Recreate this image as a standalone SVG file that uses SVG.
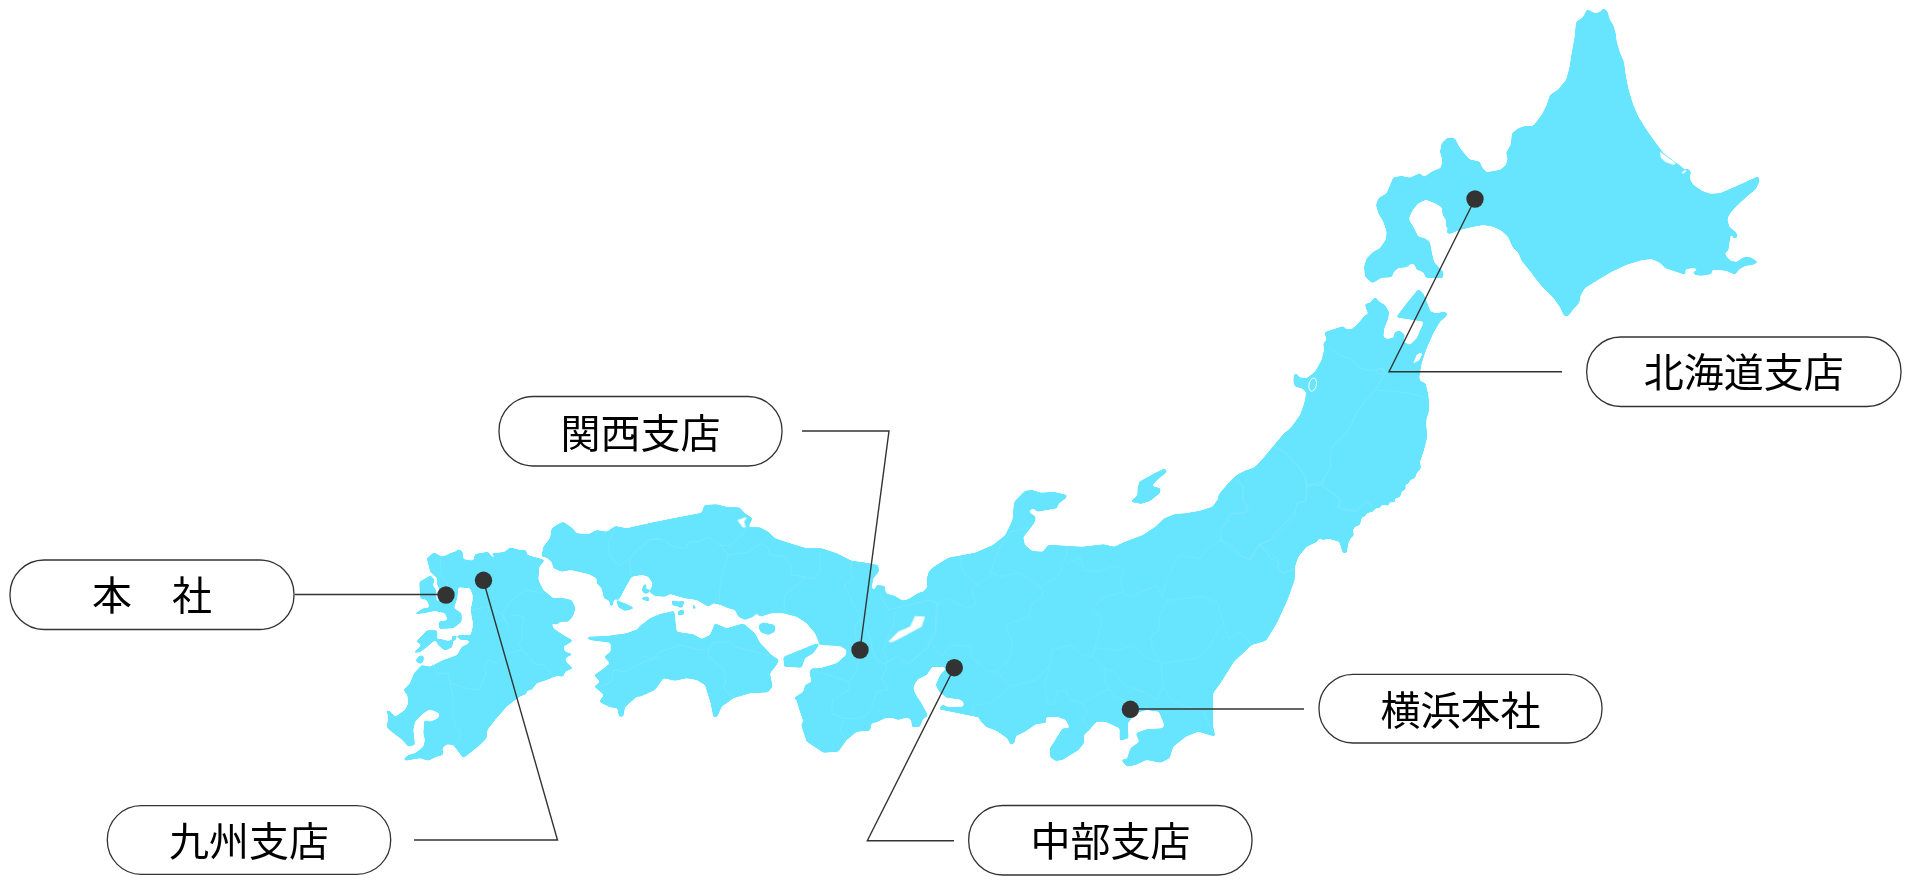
<svg xmlns="http://www.w3.org/2000/svg" width="1913" height="885" viewBox="0 0 1913 885">
<style>
.land{fill:#67e5ff}
.water{fill:#fff}
.pref{fill:none;stroke:#80e9ff;stroke-width:.6;stroke-linejoin:round;vector-effect:non-scaling-stroke}
.lake{fill:none;stroke:#fff;stroke-width:1;vector-effect:non-scaling-stroke}
.box{fill:#fff;stroke:#333;stroke-width:1.3}
.lbl{font-family:"Noto Sans CJK JP","Noto Sans CJK SC",sans-serif;font-size:40px;fill:#000;text-anchor:middle}
.line{fill:none;stroke:#333;stroke-width:1.4;stroke-linejoin:miter}
.dot{fill:#333}
</style>
<defs>
<filter id="round" filterUnits="userSpaceOnUse" x="0" y="0" width="1913" height="885" color-interpolation-filters="sRGB">
<feGaussianBlur stdDeviation="1.1"/>
<feComponentTransfer><feFuncA type="linear" slope="5" intercept="-2"/></feComponentTransfer>
</filter>
</defs>
<rect width="1913" height="885" fill="#fff"/>
<g id="map">
<g filter="url(#round)">
<g transform="translate(1340,0) scale(.33333)">
<polygon class="land" points="742,26 752,34 766,40 780,36 791,24 803,35 809,58 820,76 827,100 830,125 840,158 852,187 857,225 866,270 880,315 895,350 920,390 945,425 970,458 998,480 1010,490 1022,497 1032,508 1045,507 1053,515 1049,535 1058,553 1085,572 1110,581 1140,580 1190,558 1256,528 1257,548 1248,567 1220,590 1190,618 1170,640 1162,658 1168,680 1180,690 1192,702 1192,713 1180,716 1176,703 1172,705 1168,730 1165,753 1155,757 1158,768 1172,782 1190,786 1210,772 1230,771 1255,786 1240,794 1215,798 1198,808 1185,824 1160,813 1140,810 1116,810 1115,822 1085,827 1065,825 1057,815 1070,812 1072,807 1060,804 1036,808 1037,825 976,805 960,788 935,777 905,781 860,794 815,815 770,842 735,864 722,885 718,908 700,928 685,948 672,948 662,925 640,893 610,864 590,840 570,813 545,783 536,760 517,740 505,712 485,692 460,680 430,675 400,680 360,690 327,703 318,695 325,688 318,680 318,660 308,645 305,622 285,610 258,599 235,610 218,630 206,657 220,680 235,710 255,715 270,727 275,755 282,785 295,800 310,815 310,834 258,834 250,817 228,808 225,795 215,790 200,802 175,804 162,815 155,832 125,833 97,850 75,830 72,800 80,775 100,755 120,745 138,718 140,695 130,665 115,640 108,615 115,595 140,580 160,532 185,528 210,533 240,519 252,531 275,515 303,503 307,480 300,455 305,430 322,413 345,415 360,445 388,478 420,485 425,500 440,517 465,512 480,510 498,495 503,475 498,458 512,435 516,400 535,385 555,378 580,377 605,345 620,315 630,285 655,268 678,240 688,205 695,160 704,110 708,67 730,50"/>
</g>
<g transform="translate(1220,260) scale(.33333)">
<polygon class="land" points="-5,965 -5,705 20,675 50,645 75,632 105,622 125,600 150,570 180,535 215,500 240,465 255,425 258,395 245,385 225,380 220,365 222,342 230,340 237,352 260,355 285,335 305,300 312,270 310,250 320,240 313,217 370,198 378,208 395,208 415,190 435,165 445,163 440,150 434,132 450,128 465,110 478,125 495,135 507,155 505,175 493,205 490,230 500,237 520,233 525,215 540,212 555,225 550,245 570,255 590,235 612,185 528,172 560,130 595,87 610,100 632,155 650,160 672,155 682,160 680,168 660,185 640,220 620,265 605,310 598,350 600,362 617,370 625,405 628,450 620,475 618,490 622,530 612,570 600,605 603,625 590,640 585,655 565,660 568,670 552,675 560,685 545,695 540,712 525,715 525,728 510,725 505,738 485,733 480,745 465,742 460,755 440,758 435,770 425,772 420,795 405,800 395,815 403,825 392,835 385,850 380,880 370,880 363,850 360,835 340,835 305,840 296,830 292,845 260,860 235,890 225,920 222,965"/>
</g>
<g transform="translate(900,400) scale(.35714,.33333)">
<polygon class="land" points="1135,-5 1125,40 1100,80 1075,100 1045,140 1015,180 990,205 960,215 935,235 905,275 875,320 840,332 800,340 770,342 740,355 715,380 680,405 630,425 600,440 570,433 510,440 440,436 415,435 400,455 370,453 350,435 345,412 365,385 378,365 380,350 360,335 372,325 385,335 440,325 445,310 465,295 468,285 430,275 395,278 370,270 350,272 320,305 318,320 315,360 295,405 260,435 210,458 135,473 95,500 80,515 75,540 82,570 72,595 60,592 62,575 50,580 22,600 0,603 -10,605 -10,955 30,955 40,975 55,980 60,960 78,945 60,910 45,885 35,865 45,840 75,825 90,800 110,798 130,805 112,825 100,855 110,875 130,893 165,898 178,905 178,920 130,920 120,912 108,928 218,952 235,935 218,935 222,958 240,980 270,992 300,1015 310,1035 320,1030 325,1008 350,995 380,973 410,968 408,952 440,950 465,960 475,985 455,985 420,1045 420,1070 435,1083 455,1080 500,1050 515,1030 515,1005 530,990 550,965 575,965 615,985 615,1023 640,1015 638,970 660,940 690,930 725,935 740,975 735,985 690,988 660,1000 670,1025 645,1045 635,1078 618,1078 635,1100 660,1095 690,1080 730,1088 755,1075 765,1040 800,1010 835,995 883,1010 877,980 877,880 900,845 935,785 985,735 1025,722 1055,670 1085,600 1105,540 1105,500 1115,460 1140,435 1170,420 1180,410 1230,425 1240,460 1250,455 1255,420 1270,400 1265,375 1300,345 1350,315 1380,300 1410,260 1440,230 1455,195 1440,190 1465,140 1475,100 1470,70 1480,30 1480,-5"/>
<polygon class="land" points="645,305 665,285 665,265 670,245 715,218 742,205 748,215 720,240 705,258 730,265 728,280 700,303 675,312"/>
</g>
<g transform="translate(640,490) scale(.33333)">
<polygon class="land" points="-5,112 25,100 100,85 185,68 193,45 230,43 265,52 298,52 315,70 338,85 325,112 360,112 385,125 405,145 450,160 500,175 545,175 590,190 635,212 670,217 715,225 717,245 700,265 695,295 705,300 708,285 735,287 737,310 765,318 790,333 810,325 835,310 850,305 862,290 860,265 875,235 900,225 905,225 905,530 875,530 840,555 820,590 825,620 840,640 863,680 850,685 840,710 815,712 815,697 808,682 790,685 775,690 755,683 735,685 710,697 695,700 690,722 650,725 620,750 595,785 550,788 530,775 500,755 490,725 483,703 490,695 475,650 470,630 460,625 490,605 495,585 515,575 508,545 515,535 540,535 590,520 618,495 620,480 600,468 540,465 525,430 500,400 470,380 430,370 395,370 360,380 350,370 340,380 315,390 295,380 285,360 265,355 242,345 220,340 205,350 170,330 135,325 100,315 90,312 75,320 45,318 30,308 38,280 25,260 0,253 -5,253"/>
<polygon class="land" points="-5,412 30,385 60,372 90,365 103,362 110,425 160,433 185,447 210,435 225,400 260,415 310,400 345,430 360,458 395,495 417,510 410,525 390,550 398,590 385,605 390,607 330,610 280,625 245,650 232,680 220,682 212,640 195,585 170,570 140,565 105,572 70,565 45,600 0,620 -5,622"/>
<polygon class="land" points="430,500 480,480 530,460 537,465 520,490 495,505 485,533 432,530"/>
<polygon class="land" points="355,405 370,397 405,405 405,425 385,435 370,430 360,425"/>
<polygon class="land" points="93,331 112,333 117,347 98,347"/>
<polygon class="land" points="116,333 134,333 127,354 113,352"/>
<polygon class="land" points="158,336 170,357 158,357"/>
<polygon class="land" points="113,363 132,358 132,374 113,377"/>
</g>
<g transform="translate(380,500) scale(.33333)">
<polygon class="land" points="795,72 740,85 706,78 680,95 650,90 625,103 590,100 578,85 550,65 535,72 515,85 510,115 490,140 484,170 498,172 515,185 520,205 545,215 572,210 625,222 650,235 650,250 665,265 672,295 688,302 690,318 698,318 702,298 718,298 735,265 755,230 785,225 795,225"/>
<polygon class="land" points="708,300 740,312 765,325 735,333 715,322"/>
<polygon class="land" points="790,255 800,250 798,270 810,265 805,280 795,282 785,272"/>
<polygon class="land" points="780,295 805,288 810,305 790,300"/>
<polygon class="land" points="620,410 680,408 740,400 780,385 790,375 790,580 770,590 735,622 730,650 717,650 712,625 690,622 657,605 672,585 655,570 642,560 660,545 642,525 665,510 690,490 672,470 692,455 692,428 628,420"/>
<polygon class="land" points="495,180 478,200 475,240 490,270 520,295 545,293 575,300 587,325 578,350 565,365 540,365 530,375 515,368 520,385 550,405 580,422 550,440 555,455 580,462 555,475 562,490 580,505 555,515 550,530 530,528 500,540 470,550 455,570 440,572 440,582 418,590 380,620 345,660 322,690 320,715 300,735 275,755 250,775 235,755 220,735 200,733 187,745 190,765 170,770 145,782 120,775 75,782 70,778 85,765 105,760 130,740 135,720 130,700 133,660 150,665 175,655 178,640 150,628 130,640 105,665 100,690 105,735 85,740 65,718 40,700 20,682 25,650 18,630 30,633 45,650 75,630 85,610 82,585 70,570 90,550 102,520 125,495 150,500 190,480 232,465 245,440 268,430 265,420 240,420 230,406 272,405 280,375 272,330 280,290 270,265 235,262 232,295 222,325 245,340 245,365 220,385 178,387 175,365 203,360 195,340 165,333 130,340 97,345 130,325 150,322 140,300 120,295 118,245 145,230 150,225 165,240 158,255 168,270 170,305 176,305 178,268 170,250 172,235 150,215 148,205 140,175 162,157 185,170 200,165 210,160 225,155 237,147 248,155 250,178 280,182 285,162 325,155 335,170 350,178 332,157 345,160 375,155 390,142 420,150 438,150 442,165"/>
<polygon class="land" points="98,460 125,435 108,425 130,403 140,391 172,391 172,415 140,442 120,457"/>
<polygon class="land" points="166,420 180,416 205,423 220,418 217,442 195,452 176,437"/>
<polygon class="land" points="106,482 118,466 132,468 130,487 118,492"/>
<polygon class="land" points="216,406 230,408 227,422 216,420"/>
</g>
</g>
<g class="water">
<g transform="translate(1340,0) scale(.33333)">
<polygon points="960,455 998,482 1008,490 1000,495 975,485 962,472"/>
<polygon points="1024,518 1035,510 1040,512 1030,521"/>
</g>
<g transform="translate(1220,260) scale(.33333)">
<polygon points="580,308 590,285 600,278 607,282 598,300 585,308"/>
</g>
<g transform="translate(640,490) scale(.33333)">
<polygon points="745,455 775,425 810,410 825,378 855,380 845,410 790,440 755,457"/>
<polygon points="292,90 316,82 320,85 312,95 318,113 308,112"/>
</g>
</g>
<g id="prefectures">
<g transform="translate(1220,260) scale(.33333)">
<ellipse class="lake" cx="278" cy="374" rx="11" ry="20" transform="rotate(12 278 374)"/>
<polyline class="pref" points="335,268 360,287 395,297 415,322 450,332 470,330 490,325 495,338 470,385 440,420 405,465 390,505 345,550 330,580 333,620 305,665 260,677 258,650 230,615 200,585 185,570 160,560"/>
<polyline class="pref" points="465,390 530,395 570,400 620,415"/>
<polyline class="pref" points="305,675 360,715 355,740 375,750 410,755 440,725 465,745"/>
<polyline class="pref" points="260,677 258,725 235,725 225,755 195,790 170,815 150,840 115,855 97,885 95,897 70,895 40,860 0,838"/>
<polyline class="pref" points="45,655 70,680 68,720 85,740 75,760 35,760 20,790 0,810"/>
<polyline class="pref" points="115,855 145,880 150,895 175,905 170,925 190,940 222,925"/>
<circle class="pref" cx="480" cy="335" r="10"/>
</g>
<g transform="translate(900,400) scale(.35714,.33333)">
<polyline class="pref" points="168,470 175,515 215,555 200,570 212,615 190,625 130,595 105,610 88,598"/>
<polyline class="pref" points="105,610 100,690 80,720 80,740 25,790 0,785"/>
<polyline class="pref" points="215,555 250,530 262,490 285,430 310,395 370,380"/>
<polyline class="pref" points="250,515 280,530 335,518 395,560 400,590 370,610 360,650 295,675 315,730 305,780 270,815"/>
<polyline class="pref" points="85,725 115,770 140,735 195,740 200,770 245,815 270,815 310,860 250,910 205,915 207,945"/>
<polyline class="pref" points="395,560 440,530 465,470 470,440"/>
<polyline class="pref" points="465,490 505,472 515,510 555,515 595,498 625,505 618,550 625,580 645,590 720,555 733,590 750,600 725,650 725,690 700,710 710,760 732,790"/>
<polyline class="pref" points="625,575 565,595 540,625 565,660 545,745 615,750 650,735 690,775 732,790 735,860 720,900 690,880 630,855 600,815 572,805 575,850 600,890 640,905"/>
<polyline class="pref" points="545,745 540,770 570,805"/>
<polyline class="pref" points="420,795 380,840 310,860"/>
<polyline class="pref" points="420,795 425,750 480,735 510,765 540,770"/>
<polyline class="pref" points="420,795 405,855 412,910 432,915 440,875 465,870 475,900 510,908 575,870 590,870"/>
<polyline class="pref" points="510,908 525,935 510,960 530,990"/>
<polyline class="pref" points="732,790 830,775 860,750 900,670"/>
<polyline class="pref" points="750,600 850,590 890,610 905,670 920,715 955,695 985,735"/>
<polyline class="pref" points="733,590 750,530 780,465 840,475 860,445 900,420 895,395 925,340 975,335 960,300 960,260 940,235"/>
<polyline class="pref" points="900,420 940,460 980,480 1005,435 1030,450 1060,480 1060,510 1075,520 1105,505"/>
<polyline class="pref" points="1005,435 1055,410 1105,350 1110,310 1135,305 1140,255 1125,210 1085,160 1045,140"/>
<polyline class="pref" points="1140,255 1180,255 1235,300 1225,325 1280,330 1305,303 1330,330"/>
<polyline class="pref" points="1180,255 1205,200 1205,145 1250,100 1275,50 1300,0"/>
<polyline class="pref" points="735,860 765,905 805,920 845,925 870,985 883,1005"/>
</g>
<g transform="translate(640,490) scale(.33333)">
<polyline class="pref" points="0,180 30,148 65,148 100,170 140,175 145,157 175,155 205,142 240,165 265,195 320,187 365,160 385,175 390,195 430,198 450,220 455,255 490,260 490,270 435,315 432,345 440,370"/>
<polyline class="pref" points="240,165 270,168 315,125 318,112"/>
<polyline class="pref" points="265,195 245,260 238,310 240,345"/>
<polyline class="pref" points="540,175 540,240 525,265 490,262"/>
<polyline class="pref" points="635,212 632,240 640,270 612,285 662,385 645,410 650,455"/>
<polyline class="pref" points="662,385 690,440 700,490 715,515 735,520 740,535 725,565 745,600 710,605 690,665 660,685 610,685 575,670 578,630 625,600 628,575 650,540 655,510 665,505"/>
<polyline class="pref" points="625,575 515,540"/>
<polyline class="pref" points="610,690 600,725 620,750"/>
<polyline class="pref" points="735,520 770,500 810,520 865,470 885,435 890,340"/>
<polyline class="pref" points="720,315 745,360 870,330 890,340 900,345"/>
<polyline class="pref" points="765,365 760,400 730,480 745,520"/>
<polyline class="pref" points="0,498 20,500 35,510 60,485 120,465 180,480 205,480 220,458 270,455 285,470 385,497"/>
<polyline class="pref" points="205,480 205,500 250,535 258,580 250,585 262,610 282,622"/>
</g>
<g transform="translate(380,500) scale(.33333)">
<polyline class="pref" points="180,170 185,230 200,245 205,265"/>
<polyline class="pref" points="275,330 325,320 370,345 385,375 365,345 385,310 420,280 440,270 490,280"/>
<polyline class="pref" points="395,345 430,350 425,420 415,435 425,450 445,465 460,490 490,495 520,525"/>
<polyline class="pref" points="425,450 385,460 350,490 325,480 315,500 318,520 298,570 260,565 210,550 220,600 218,640 225,680 240,690 240,720 220,735"/>
<polyline class="pref" points="155,490 175,520 205,520 210,550"/>
<polyline class="pref" points="705,85 685,130 690,170 720,195 752,175 770,150 805,120 840,115"/>
<polyline class="pref" points="750,180 752,225"/>
<polyline class="pref" points="660,560 695,545 700,510 735,515 770,495 805,480 840,470"/>
</g>
</g>
</g>
<g id="connectors">
<polyline class="line" points="1475,199 1389,371.7 1562,371.7"/>
<polyline class="line" points="860,650 889,431 802,431"/>
<polyline class="line" points="295,594.5 446,594.5"/>
<polyline class="line" points="483.3,580.3 557.5,840 414,840"/>
<polyline class="line" points="954.3,667.7 867.3,840.7 954,840.7"/>
<polyline class="line" points="1130.4,709 1304,709"/>
</g>
<g id="dot-hokkaido"><circle class="dot" cx="1475" cy="199" r="8.7"/></g>
<g id="dot-honsha"><circle class="dot" cx="446" cy="595" r="8.7"/></g>
<g id="dot-kyushu"><circle class="dot" cx="483.5" cy="580.3" r="8.7"/></g>
<g id="dot-kansai"><circle class="dot" cx="860" cy="650" r="8.7"/></g>
<g id="dot-chubu"><circle class="dot" cx="954.3" cy="667.7" r="8.7"/></g>
<g id="dot-yokohama"><circle class="dot" cx="1130.4" cy="709.3" r="8.7"/></g>
<g id="node-hokkaido"><rect class="box" x="1586.7" y="337" width="314.3" height="69.5" rx="34"/><text class="lbl" x="1743.8" y="387">北海道支店</text></g>
<g id="node-kansai"><rect class="box" x="499" y="396.5" width="283" height="69.5" rx="34"/><text class="lbl" x="640.5" y="447.5">関西支店</text></g>
<g id="node-honsha"><rect class="box" x="10" y="560" width="284" height="69.5" rx="34"/><text class="lbl" x="152" y="610">本　社</text></g>
<g id="node-kyushu"><rect class="box" x="107.3" y="805.7" width="283.4" height="68.6" rx="34"/><text class="lbl" x="249" y="856">九州支店</text></g>
<g id="node-chubu"><rect class="box" x="968.7" y="805.5" width="283.3" height="69.5" rx="34"/><text class="lbl" x="1110.4" y="856">中部支店</text></g>
<g id="node-yokohama"><rect class="box" x="1319" y="674.3" width="283" height="68.7" rx="34"/><text class="lbl" x="1460.5" y="724.5">横浜本社</text></g>
</svg>
